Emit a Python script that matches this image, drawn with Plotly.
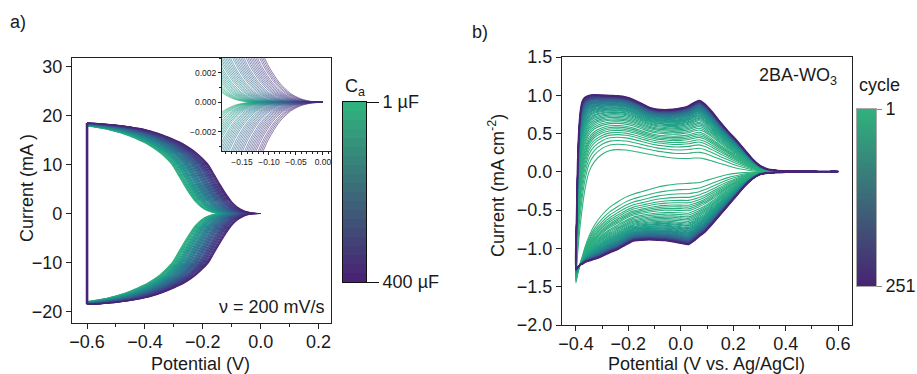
import numpy as np
import plotly.graph_objects as go
from plotly.colors import sample_colorscale

# ---------------- panel a : CV curves for different capacitances ----------------
pot_a = [-0.60, -0.58, -0.56, -0.54, -0.52, -0.50, -0.48, -0.46, -0.44, -0.42,
         -0.40, -0.38, -0.36, -0.34, -0.32, -0.30, -0.28, -0.26, -0.24, -0.22,
         -0.20, -0.18, -0.16, -0.14, -0.12, -0.10, -0.08, -0.06, -0.04, -0.02, 0.00]
# outermost (400 uF) curve, anodic and cathodic branch (mA)
cur_up_a = [18.5, 18.45, 18.4, 18.3, 18.2, 18.1, 17.95, 17.8, 17.6, 17.4,
            17.15, 16.85, 16.5, 16.1, 15.65, 15.15, 14.6, 13.95, 13.2, 12.3,
            11.2, 9.9, 7.9, 5.9, 4.0, 2.4, 1.3, 0.6, 0.22, 0.05, 0.0]
cur_dn_a = [-18.6, -18.55, -18.5, -18.4, -18.3, -18.2, -18.05, -17.9, -17.7, -17.5,
            -17.25, -16.95, -16.6, -16.2, -15.75, -15.25, -14.7, -14.05, -13.3, -12.4,
            -11.3, -10.0, -8.0, -6.0, -4.1, -2.45, -1.3, -0.6, -0.22, -0.05, 0.0]
cap_uF = [1, 10, 20, 30, 40, 50, 60, 70, 80, 90, 100, 110, 120, 130, 140, 150, 160,
          170, 180, 190, 200, 210, 220, 230, 240, 250, 260, 270, 280, 290, 300, 310,
          320, 330, 340, 350, 360, 370, 380, 390, 400]
# potential offset of each curve relative to the 400 uF curve (V)
shift_a = [0.125, 0.122, 0.119, 0.116, 0.113, 0.109, 0.106, 0.103, 0.100, 0.097,
           0.094, 0.091, 0.088, 0.084, 0.081, 0.078, 0.075, 0.072, 0.069, 0.066,
           0.063, 0.059, 0.056, 0.053, 0.050, 0.047, 0.044, 0.041, 0.038, 0.034,
           0.031, 0.028, 0.025, 0.022, 0.019, 0.016, 0.013, 0.009, 0.006, 0.003, 0.000]
cbar_a_labels = ["400 µF", "1 µF"]

# ---------------- panel b : 2BA-WO3 cycling ----------------
pot_b = [-0.400, -0.397, -0.393, -0.388, -0.382, -0.375, -0.365, -0.35, -0.33, -0.30,
         -0.27, -0.24, -0.21, -0.18, -0.15, -0.12, -0.09, -0.06, -0.03, 0.00,
         0.03, 0.05, 0.07, 0.09, 0.12, 0.15, 0.18, 0.21, 0.24, 0.27,
         0.30, 0.33, 0.36, 0.40, 0.45, 0.50, 0.55, 0.60]
outer_up_b = [-1.27, -0.6, 0.1, 0.55, 0.80, 0.92, 0.97, 0.995, 1.005, 1.00,
              0.995, 0.99, 0.975, 0.94, 0.89, 0.84, 0.815, 0.81, 0.815, 0.83,
              0.86, 0.90, 0.93, 0.89, 0.78, 0.65, 0.53, 0.42, 0.30, 0.18,
              0.085, 0.035, 0.02, 0.012, 0.008, 0.006, 0.005, 0.005]
outer_dn_b = [-1.27, -1.26, -1.24, -1.23, -1.21, -1.20, -1.18, -1.16, -1.14, -1.10,
              -1.05, -1.01, -0.95, -0.90, -0.89, -0.885, -0.89, -0.895, -0.91, -0.93,
              -0.945, -0.90, -0.84, -0.79, -0.68, -0.56, -0.44, -0.32, -0.20, -0.10,
              -0.035, -0.015, -0.008, -0.004, 0.0, 0.002, 0.003, 0.004]
inner_up_b = [-1.45, -1.25, -1.05, -0.85, -0.65, -0.45, -0.22, 0.0, 0.13, 0.23,
              0.28, 0.29, 0.285, 0.27, 0.25, 0.23, 0.21, 0.195, 0.18, 0.175,
              0.175, 0.18, 0.18, 0.17, 0.14, 0.11, 0.08, 0.05, 0.03, 0.015,
              0.008, 0.005, 0.004, 0.004, 0.004, 0.004, 0.004, 0.004]
inner_dn_b = [-1.45, -1.40, -1.33, -1.26, -1.18, -1.10, -0.98, -0.84, -0.70, -0.56,
              -0.46, -0.39, -0.33, -0.29, -0.26, -0.23, -0.20, -0.18, -0.165, -0.155,
              -0.15, -0.145, -0.14, -0.12, -0.09, -0.06, -0.035, -0.02, -0.01, -0.005,
              -0.002, 0.0, 0.0, 0.0, 0.002, 0.003, 0.004, 0.004]
cycles_b = [1, 2, 3, 4, 5, 6, 7, 8, 9, 10, 12, 14, 16, 18, 20, 23, 26, 29, 32, 35,
            39, 43, 47, 51, 55, 60, 65, 70, 75, 80, 86, 92, 98, 104, 110, 117, 124,
            131, 138, 145, 152, 160, 168, 176, 184, 192, 200, 208, 216, 224, 232,
            240, 246, 251]
# fraction of the way from cycle-1 curve to cycle-251 curve
growth_b = [0.0, 0.10, 0.17, 0.23, 0.28, 0.32, 0.36, 0.39, 0.42, 0.45, 0.49, 0.52,
            0.55, 0.575, 0.60, 0.625, 0.65, 0.67, 0.69, 0.705, 0.725, 0.74, 0.755,
            0.77, 0.78, 0.795, 0.81, 0.82, 0.83, 0.84, 0.85, 0.86, 0.87, 0.88, 0.888,
            0.896, 0.904, 0.912, 0.92, 0.927, 0.934, 0.941, 0.948, 0.954, 0.96, 0.965,
            0.97, 0.975, 0.98, 0.985, 0.99, 0.994, 0.997, 1.0]
cbar_b_labels = ["251", "1"]

# ---------------- styling helpers ----------------
W, H = 917, 374
FONT = "Arial, Liberation Sans, sans-serif"
TXT = "#1a1a1a"
V_TOP, V_BOT = 0.64, 0.10


def vir(t):
    return sample_colorscale("Viridis", [t])[0]


def shifted(bx, by, d):
    bx = np.asarray(bx, float)
    by = np.asarray(by, float)
    xs = bx - d
    keep = xs > -0.6 + 1e-9
    x = np.concatenate([[-0.6], xs[keep]])
    y = np.concatenate([[np.interp(-0.6 + d, bx, by)], by[keep]])
    if d > 0:
        x = np.append(x, 0.0)
        y = np.append(y, by[-1])
    return x, y


fig = go.Figure()

# panel a curves (main + inset)
for c, d in zip(cap_uF, shift_a):
    t = V_TOP - (c - 1) / 399 * (V_TOP - V_BOT)
    col = vir(t)
    xu, yu = shifted(pot_a, cur_up_a, d)
    xd, yd = shifted(pot_a, cur_dn_a, d)
    xx = list(xu) + [None] + list(xd)
    yy = list(yu) + [None] + list(yd)
    fig.add_trace(go.Scatter(x=xx, y=yy, mode="lines", xaxis="x", yaxis="y",
                             line=dict(color=col, width=1.1, shape="spline", smoothing=0.8),
                             showlegend=False, hoverinfo="skip"))
    yy_in = [None if v is None else v / 1000 for v in yy]
    fig.add_trace(go.Scatter(x=xx, y=yy_in, mode="lines", xaxis="x3", yaxis="y3",
                             line=dict(color=col, width=0.8, shape="spline", smoothing=0.8),
                             opacity=0.75, showlegend=False, hoverinfo="skip"))

fig.add_trace(go.Scatter(x=[pot_a[0], pot_a[0]], y=[cur_dn_a[0], cur_up_a[0]], mode="lines",
                         xaxis="x", yaxis="y", line=dict(color=vir(V_BOT), width=2.6),
                         showlegend=False, hoverinfo="skip"))

# panel b curves
ob_u, ob_d = np.array(outer_up_b), np.array(outer_dn_b)
ib_u, ib_d = np.array(inner_up_b), np.array(inner_dn_b)
for cyc, w in zip(cycles_b, growth_b):
    t = V_TOP - (cyc - 1) / 250 * (V_TOP - V_BOT)
    up = ib_u + w * (ob_u - ib_u)
    dn = ib_d + w * (ob_d - ib_d)
    xx = list(pot_b) + list(pot_b[::-1])
    yy = list(up) + list(dn[::-1])
    fig.add_trace(go.Scatter(x=xx, y=yy, mode="lines", xaxis="x2", yaxis="y2",
                             line=dict(color=vir(t), width=1.9 if cyc == 251 else 1.1,
                                       shape="spline", smoothing=0.6),
                             showlegend=False, hoverinfo="skip"))

# colour bars drawn as heatmaps on their own small axes
nb_a = 20
cs_a = [[0, vir(V_BOT)], [1, vir(V_TOP)]]
fig.add_trace(go.Heatmap(z=[[i] for i in range(nb_a)], x=[0], y=[i + 0.5 for i in range(nb_a)],
                         xaxis="x4", yaxis="y4", colorscale=cs_a, zmin=0, zmax=nb_a - 1,
                         showscale=False, hoverinfo="skip"))
nb_b = 120
fig.add_trace(go.Heatmap(z=[[i] for i in range(nb_b)], x=[0], y=[i + 0.5 for i in range(nb_b)],
                         xaxis="x5", yaxis="y5", colorscale=cs_a, zmin=0, zmax=nb_b - 1,
                         showscale=False, hoverinfo="skip"))

axstyle = dict(showline=True, linecolor="#222", linewidth=1.2, mirror=True, ticks="outside",
               ticklen=5, tickcolor="#222", showgrid=False, zeroline=False,
               tickfont=dict(size=18, family=FONT, color=TXT))
inset_style = dict(showline=True, linecolor="#222", linewidth=1, mirror=True, ticks="outside",
                   ticklen=3, tickcolor="#222", showgrid=False, zeroline=False,
                   tickfont=dict(size=8.5, family=FONT, color=TXT))


def ann(text, x, y, xa="center", ya="middle", angle=0, size=18):
    return dict(text=text, xref="paper", yref="paper", x=x / W, y=1 - y / H, xanchor=xa,
                yanchor=ya, showarrow=False, textangle=angle, font=dict(size=size))


fig.update_layout(
    width=W, height=H, margin=dict(l=0, r=0, t=0, b=0, autoexpand=False),
    paper_bgcolor="white", plot_bgcolor="white",
    font=dict(family=FONT, color=TXT, size=18),
    xaxis=dict(domain=[72 / W, 331 / W], range=[-0.652, 0.243], anchor="y",
               tickvals=[-0.6, -0.4, -0.2, 0.0, 0.2], tickformat=".1f", ticklabelstandoff=-3,
               minor=dict(ticks="outside", ticklen=3, dtick=0.1, tickcolor="#222"), **axstyle),
    yaxis=dict(domain=[1 - 323 / H, 1 - 58 / H], range=[-22.4, 31.8], anchor="x",
               tickvals=[-20, -10, 0, 10, 20, 30], **axstyle),
    xaxis2=dict(domain=[562 / W, 852 / W], range=[-0.453, 0.653], anchor="y2",
                tickvals=[-0.4, -0.2, 0.0, 0.2, 0.4, 0.6], tickformat=".1f", ticklabelstandoff=-3,
                minor=dict(ticks="outside", ticklen=3, dtick=0.1, tickcolor="#222"), **axstyle),
    yaxis2=dict(domain=[1 - 325 / H, 1 - 57 / H], range=[-2.0, 1.5], anchor="x2",
                dtick=0.5, tickformat=".1f", **axstyle),
    xaxis3=dict(domain=[222 / W, 331 / W], range=[-0.187, 0.015], anchor="y3",
                tickvals=[-0.15, -0.10, -0.05, 0.0], tickformat=".2f",
                minor=dict(ticks="outside", ticklen=2, dtick=0.01, tickcolor="#222"),
                **inset_style),
    yaxis3=dict(domain=[1 - 151 / H, 1 - 58 / H], range=[-0.0033, 0.003], anchor="x3",
                tickvals=[-0.002, 0.0, 0.002], tickformat=".3f",
                minor=dict(ticks="outside", ticklen=2, dtick=0.001, tickcolor="#222"),
                **inset_style),
    xaxis4=dict(domain=[343 / W, 366 / W], range=[-0.5, 0.5], anchor="y4", showticklabels=False,
                showline=True, linecolor="#111", linewidth=1, mirror=True, ticks="",
                showgrid=False, zeroline=False, fixedrange=True),
    yaxis4=dict(domain=[1 - 282 / H, 1 - 102 / H], range=[0, nb_a], anchor="x4", side="right",
                showline=True, linecolor="#111", linewidth=1, mirror=True, ticks="outside",
                ticklen=12, tickcolor="#111", tickvals=[0, nb_a], ticktext=cbar_a_labels,
                showgrid=False, zeroline=False, tickfont=dict(size=18, family=FONT, color=TXT)),
    xaxis5=dict(domain=[857 / W, 876 / W], range=[-0.5, 0.5], anchor="y5", showticklabels=False,
                showline=True, linecolor="#aaa", linewidth=1, mirror=True, ticks="",
                showgrid=False, zeroline=False),
    yaxis5=dict(domain=[1 - 286 / H, 1 - 109 / H], range=[0, nb_b], anchor="x5", side="right",
                showline=True, linecolor="#aaa", linewidth=1, mirror=True, ticks="outside",
                ticklen=5, tickcolor="#888", tickvals=[0, nb_b], ticktext=cbar_b_labels,
                showgrid=False, zeroline=False, tickfont=dict(size=18, family=FONT, color=TXT)),
    annotations=[
        ann("a)", 8, 22, xa="left"),
        ann("b)", 470, 32, xa="left"),
        ann("ν = 200 mV/s", 327, 307, xa="right"),
        ann("2BA-WO<sub>3</sub>", 757, 76, xa="left"),
        ann("C<sub>a</sub>", 343, 87, xa="left"),
        ann("cycle", 857, 85, xa="left"),
        ann("Current (mA )", 27, 188, angle=-90),
        ann("Current (mA cm<sup>-2</sup>)", 496, 186, angle=-90),
        ann("Potential (V)", 200, 364),
        ann("Potential (V vs. Ag/AgCl)", 706, 364),
    ],
)

fig.write_html("out.html")
